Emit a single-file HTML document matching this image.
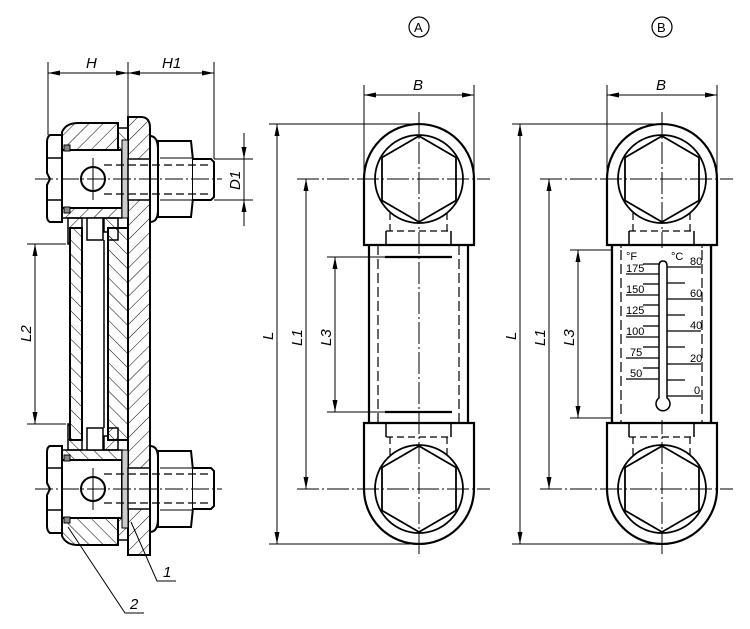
<!DOCTYPE html>
<html><head><meta charset="utf-8"><style>
html,body{margin:0;padding:0;background:#fff;}
svg{display:block;}
text{font-family:"Liberation Sans",sans-serif;font-style:italic;fill:#000;}
</style></head><body>
<svg width="750" height="629" viewBox="0 0 750 629" xmlns="http://www.w3.org/2000/svg">
<defs>
<pattern id="h1" patternUnits="userSpaceOnUse" width="10" height="10" patternTransform="rotate(45)"><line x1="0" y1="0" x2="0" y2="10" stroke="#000" stroke-width="1"/></pattern>
<pattern id="h2" patternUnits="userSpaceOnUse" width="10" height="10" patternTransform="rotate(-45)"><line x1="0" y1="0" x2="0" y2="10" stroke="#000" stroke-width="1"/></pattern>
<marker id="ar" markerWidth="12" markerHeight="6" refX="12" refY="3" orient="auto" markerUnits="userSpaceOnUse"><path d="M0,0.5 L12,3 L0,5.5 Z" fill="#000"/></marker>
<marker id="as" markerWidth="12" markerHeight="6" refX="0" refY="3" orient="auto" markerUnits="userSpaceOnUse"><path d="M12,0.5 L0,3 L12,5.5 Z" fill="#000"/></marker>
<g id="blk">
  <!-- block body -->
  <path d="M62,135 L62,132 Q66,123 78,123 L118,123 L118,150 L62,150 Z" fill="url(#h1)" stroke="#000" stroke-width="2"/>
  <rect x="62" y="150" width="60" height="58" fill="#fff" stroke="#000" stroke-width="2"/>
  <rect x="62" y="208" width="60" height="10" fill="url(#h1)" stroke="#000" stroke-width="1.5"/>
  <rect x="118" y="128" width="10" height="22" fill="url(#h2)" stroke="#000" stroke-width="1.5"/>
  <rect x="122" y="140" width="6" height="78" fill="#ccc" stroke="#000" stroke-width="1"/>
  <rect x="64" y="145" width="6" height="6" fill="#888" stroke="#000" stroke-width="1"/>
  <rect x="64" y="207" width="6" height="6" fill="#888" stroke="#000" stroke-width="1"/>
  <!-- hex head -->
  <path d="M62,135 L50,135 Q47,137 47,142 L47,173 L50,179 L47,185 L47,216 Q47,221 50,222 L62,222 Z" fill="#fff" stroke="#000" stroke-width="2"/>
  <line x1="47" y1="158" x2="62" y2="158" stroke="#000" stroke-width="1.5"/>
  <line x1="47" y1="200" x2="62" y2="200" stroke="#000" stroke-width="1.5"/>
  <circle cx="93" cy="179" r="12" fill="#fff" stroke="#000" stroke-width="2"/>
  <line x1="93" y1="158" x2="93" y2="200" stroke="#000" stroke-width="1"/>
  <!-- washer, nut, bolt -->
  <rect x="128" y="159" width="22" height="41" fill="#fff" stroke="#000" stroke-width="1.5"/>
  <path d="M150,136 Q158,136 158,150 L158,210 Q158,222 150,222 Z" fill="#fff" stroke="#000" stroke-width="2"/>
  <path d="M158,141 L191,141 L193,160 L193,198 L191,217 L158,217 Z" fill="#fff" stroke="#000" stroke-width="2"/>
  <line x1="160" y1="158" x2="193" y2="158" stroke="#000" stroke-width="1"/>
  <line x1="160" y1="200" x2="193" y2="200" stroke="#000" stroke-width="1"/>
  <path d="M193,159 L211,159 L214,162 L214,197 L211,200 L193,200" fill="#fff" stroke="#000" stroke-width="2"/>
  <line x1="104" y1="165" x2="212" y2="165" stroke="#000" stroke-width="1.2" stroke-dasharray="8,4"/>
  <line x1="104" y1="194" x2="212" y2="194" stroke="#000" stroke-width="1.2" stroke-dasharray="8,4"/>
  <!-- neck to glass -->
  <rect x="87" y="218" width="16" height="22" fill="#fff" stroke="#000" stroke-width="1.5"/>
  <path d="M68,218 L68,244 L70,244 L70,228 L82,228 L82,218 Z" fill="url(#h1)" stroke="#000" stroke-width="1.5"/>
  <path d="M104,218 L104,232 L108,232 L108,240 L118,240 L118,218 Z" fill="url(#h2)" stroke="#000" stroke-width="1.5"/>
</g>
</defs>

<!-- ===== LEFT SECTION VIEW ===== -->
<!-- plate -->
<path d="M128,117 L141,117 Q150,117 150,128 L150,555 L128,555 Z" fill="url(#h1)" stroke="#000" stroke-width="2"/>
<!-- inner strip -->
<rect x="108" y="228" width="20" height="212" fill="url(#h2)" stroke="#000" stroke-width="2"/>
<!-- glass -->
<rect x="70" y="228" width="12" height="212" fill="url(#h2)" stroke="#000" stroke-width="2"/>
<line x1="104" y1="240" x2="104" y2="428" stroke="#000" stroke-width="1.5"/>
<use href="#blk"/>
<use href="#blk" transform="translate(0,668) scale(1,-1)"/>
<!-- centerlines -->
<line x1="35" y1="179" x2="222" y2="179" stroke="#000" stroke-width="1" stroke-dasharray="18,3,2,3"/>
<line x1="35" y1="489" x2="222" y2="489" stroke="#000" stroke-width="1" stroke-dasharray="18,3,2,3"/>
<!-- H / H1 dims -->
<line x1="48" y1="62" x2="48" y2="135" stroke="#000" stroke-width="1"/>
<line x1="128" y1="62" x2="128" y2="117" stroke="#000" stroke-width="1"/>
<line x1="214" y1="62" x2="214" y2="159" stroke="#000" stroke-width="1"/>
<line x1="48" y1="73" x2="128" y2="73" stroke="#000" stroke-width="1" marker-start="url(#as)" marker-end="url(#ar)"/>
<line x1="128" y1="73" x2="214" y2="73" stroke="#000" stroke-width="1" marker-start="url(#as)" marker-end="url(#ar)"/>
<text x="86" y="68" font-size="15">H</text>
<text x="162" y="68" font-size="15">H1</text>
<!-- D1 -->
<line x1="214" y1="159" x2="253" y2="159" stroke="#000" stroke-width="1"/>
<line x1="214" y1="200" x2="253" y2="200" stroke="#000" stroke-width="1"/>
<line x1="244" y1="133" x2="244" y2="159" stroke="#000" stroke-width="1" marker-end="url(#ar)"/>
<line x1="244" y1="226" x2="244" y2="200" stroke="#000" stroke-width="1" marker-end="url(#ar)"/>
<line x1="244" y1="159" x2="244" y2="200" stroke="#000" stroke-width="1"/>
<text transform="translate(240,190) rotate(-90)" font-size="15">D1</text>
<!-- L2 -->
<line x1="27" y1="244" x2="66" y2="244" stroke="#000" stroke-width="1"/>
<line x1="27" y1="424" x2="66" y2="424" stroke="#000" stroke-width="1"/>
<line x1="35" y1="244" x2="35" y2="424" stroke="#000" stroke-width="1" marker-start="url(#as)" marker-end="url(#ar)"/>
<text transform="translate(31,342) rotate(-90)" font-size="15">L2</text>
<!-- leaders -->
<polyline points="131,522 157,581 176,581" fill="none" stroke="#000" stroke-width="1"/>
<text x="163" y="577" font-size="15">1</text>
<polyline points="68,527 125,613 144,613" fill="none" stroke="#000" stroke-width="1"/>
<text x="130" y="609" font-size="15">2</text>

<!-- ===== VIEW A / B ===== -->
<g id="va">
  <path d="M364,245 L364,179 A55,55 0 0 1 474,179 L474,245 Z" fill="#fff" stroke="#000" stroke-width="2.2"/>
  <path d="M364,423 L474,423 L474,489 A55,55 0 0 1 364,489 Z" fill="#fff" stroke="#000" stroke-width="2.2"/>
  <line x1="369" y1="245" x2="369" y2="423" stroke="#000" stroke-width="2.2"/>
  <line x1="468" y1="245" x2="468" y2="423" stroke="#000" stroke-width="2.2"/>
  <line x1="378" y1="245" x2="378" y2="423" stroke="#000" stroke-width="1.2" stroke-dasharray="10,4"/>
  <line x1="459" y1="245" x2="459" y2="423" stroke="#000" stroke-width="1.2" stroke-dasharray="10,4"/>
  <circle cx="419" cy="179" r="44" fill="none" stroke="#000" stroke-width="1.8"/>
  <polygon points="419,136 456,157.5 456,200.5 419,222 382,200.5 382,157.5" fill="none" stroke="#000" stroke-width="1.8"/>
  <circle cx="419" cy="489" r="44" fill="none" stroke="#000" stroke-width="1.8"/>
  <polygon points="419,446 456,467.5 456,510.5 419,532 382,510.5 382,467.5" fill="none" stroke="#000" stroke-width="1.8"/>
  <!-- hidden bosses -->
  <path d="M390,213 L390,231 M447,213 L447,231 M386,231 L451,231" stroke="#000" stroke-width="1.2" stroke-dasharray="7,4" fill="none"/>
  <path d="M386,231 L386,245 M451,231 L451,245" stroke="#000" stroke-width="1.5"/>
  <path d="M390,455 L390,437 M447,455 L447,437 M386,437 L451,437" stroke="#000" stroke-width="1.2" stroke-dasharray="7,4" fill="none"/>
  <path d="M386,437 L386,423 M451,437 L451,423" stroke="#000" stroke-width="1.5"/>
  <!-- centerlines -->
  <line x1="419" y1="112" x2="419" y2="556" stroke="#000" stroke-width="1" stroke-dasharray="22,3,2,3"/>
  <line x1="297" y1="179" x2="490" y2="179" stroke="#000" stroke-width="1" stroke-dasharray="22,3,2,3"/>
  <line x1="297" y1="489" x2="490" y2="489" stroke="#000" stroke-width="1" stroke-dasharray="22,3,2,3"/>
  <!-- B dim -->
  <line x1="364" y1="85" x2="364" y2="179" stroke="#000" stroke-width="1"/>
  <line x1="474" y1="85" x2="474" y2="179" stroke="#000" stroke-width="1"/>
  <line x1="364" y1="95" x2="474" y2="95" stroke="#000" stroke-width="1" marker-start="url(#as)" marker-end="url(#ar)"/>
  <text x="413" y="90" font-size="15">B</text>
  <!-- L / L1 -->
  <line x1="269" y1="124" x2="419" y2="124" stroke="#000" stroke-width="1"/>
  <line x1="269" y1="544" x2="419" y2="544" stroke="#000" stroke-width="1"/>
  <line x1="277" y1="124" x2="277" y2="544" stroke="#000" stroke-width="1" marker-start="url(#as)" marker-end="url(#ar)"/>
  <text transform="translate(273,340) rotate(-90)" font-size="15">L</text>
  <line x1="306" y1="179" x2="306" y2="489" stroke="#000" stroke-width="1" marker-start="url(#as)" marker-end="url(#ar)"/>
  <text transform="translate(302,346) rotate(-90)" font-size="15">L1</text>
</g>
<!-- A-specific L3 -->
<line x1="327" y1="257" x2="385" y2="257" stroke="#000" stroke-width="1"/>
<line x1="327" y1="412" x2="385" y2="412" stroke="#000" stroke-width="1"/>
<line x1="385" y1="257" x2="452" y2="257" stroke="#000" stroke-width="2.2"/>
<line x1="385" y1="412" x2="452" y2="412" stroke="#000" stroke-width="2.2"/>
<line x1="335" y1="257" x2="335" y2="412" stroke="#000" stroke-width="1" marker-start="url(#as)" marker-end="url(#ar)"/>
<text transform="translate(331,346) rotate(-90)" font-size="15">L3</text>

<use href="#va" transform="translate(243,0)"/>
<!-- B L3 and thermometer -->
<line x1="570" y1="250" x2="630" y2="250" stroke="#000" stroke-width="1"/>
<line x1="570" y1="418" x2="630" y2="418" stroke="#000" stroke-width="1"/>
<line x1="630" y1="250" x2="705" y2="250" stroke="#000" stroke-width="2"/>
<line x1="630" y1="418" x2="705" y2="418" stroke="#000" stroke-width="2"/>
<line x1="578" y1="250" x2="578" y2="418" stroke="#000" stroke-width="1" marker-start="url(#as)" marker-end="url(#ar)"/>
<text transform="translate(574,346) rotate(-90)" font-size="15">L3</text>
<rect x="612" y="248" width="100" height="172" fill="#fff"/>
<line x1="612" y1="245" x2="612" y2="423" stroke="#000" stroke-width="2.2"/>
<line x1="711" y1="245" x2="711" y2="423" stroke="#000" stroke-width="2.2"/>
<line x1="621" y1="250" x2="621" y2="418" stroke="#000" stroke-width="1.2" stroke-dasharray="10,4"/>
<line x1="702" y1="250" x2="702" y2="418" stroke="#000" stroke-width="1.2" stroke-dasharray="10,4"/>
<path d="M659,266 Q659,261 663,261 Q667,261 667,266 L667,398 A7,7 0 1 1 659,398 Z" fill="#fff" stroke="#000" stroke-width="1.5"/>
<g stroke="#000" stroke-width="1.3">
<line x1="626" y1="274" x2="659" y2="274"/><line x1="626" y1="295" x2="659" y2="295"/>
<line x1="626" y1="316" x2="659" y2="316"/><line x1="626" y1="337" x2="659" y2="337"/>
<line x1="626" y1="358" x2="659" y2="358"/><line x1="626" y1="379" x2="659" y2="379"/>
<line x1="643" y1="264" x2="659" y2="264"/><line x1="643" y1="284" x2="659" y2="284"/>
<line x1="643" y1="305" x2="659" y2="305"/><line x1="643" y1="326" x2="659" y2="326"/>
<line x1="643" y1="347" x2="659" y2="347"/><line x1="643" y1="368" x2="659" y2="368"/>
<line x1="667" y1="267" x2="701" y2="267"/><line x1="667" y1="283" x2="685" y2="283"/>
<line x1="667" y1="299" x2="701" y2="299"/><line x1="667" y1="315" x2="685" y2="315"/>
<line x1="667" y1="331" x2="701" y2="331"/><line x1="667" y1="347" x2="685" y2="347"/>
<line x1="667" y1="364" x2="701" y2="364"/><line x1="667" y1="380" x2="685" y2="380"/>
<line x1="667" y1="396" x2="701" y2="396"/>
</g>
<g font-size="11" style="font-style:normal">
<text x="626" y="260" style="font-style:normal">°F</text><text x="671" y="260" style="font-style:normal">°C</text>
<text x="626" y="272" style="font-style:normal">175</text><text x="626" y="293" style="font-style:normal">150</text>
<text x="626" y="314" style="font-style:normal">125</text><text x="626" y="335" style="font-style:normal">100</text>
<text x="630" y="356" style="font-style:normal">75</text><text x="630" y="377" style="font-style:normal">50</text>
<text x="690" y="265" style="font-style:normal">80</text><text x="690" y="297" style="font-style:normal">60</text>
<text x="690" y="329" style="font-style:normal">40</text><text x="690" y="362" style="font-style:normal">20</text>
<text x="694" y="394" style="font-style:normal">0</text>
</g>

<!-- circle labels -->
<circle cx="419" cy="27" r="10" fill="none" stroke="#000" stroke-width="1.2"/>
<text x="414" y="32" font-size="13" style="font-style:normal">A</text>
<circle cx="662" cy="27" r="10" fill="none" stroke="#000" stroke-width="1.2"/>
<text x="657" y="32" font-size="13" style="font-style:normal">B</text>
</svg>
</body></html>
